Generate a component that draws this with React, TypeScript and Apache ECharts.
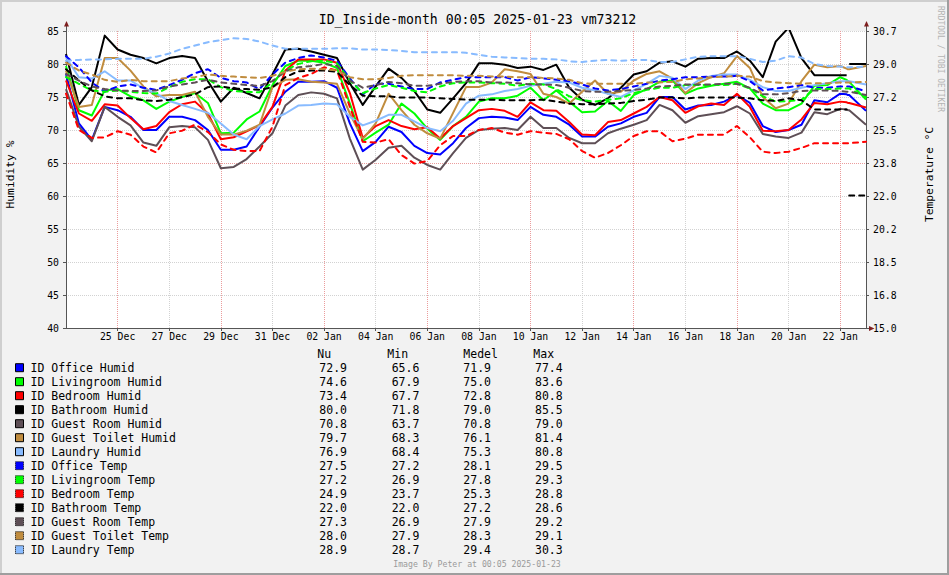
import React, { useEffect, useRef } from "react";
import * as echarts from "echarts";

const FONT = "DejaVu Sans Mono";

// x position of every sample: days since 2024-12-23 00:00
const days: number[] = [...Array.from({ length: 61 }, (_, i) => i / 2), 30.25, 30.3, 30.35, 31];

const xLabelDays = [2, 4, 6, 8, 10, 12, 14, 16, 18, 20, 22, 24, 26, 28, 30];
const humidTicks = [40, 45, 50, 55, 60, 65, 70, 75, 80, 85];
const tempTickLabels = ["15.0", "16.8", "18.5", "20.2", "22.0", "23.8", "25.5", "27.2", "29.0", "30.7"];
const MONTHS = ["Jan", "Feb", "Mar", "Apr", "May", "Jun", "Jul", "Aug", "Sep", "Oct", "Nov", "Dec"];

// Humidity (%)
const officeHumid = [78.5, 71, 68.5, 73.5, 73, 72, 70, 70, 72, 72, 71.5, 70, 67, 67, 67.5, 70.5, 73.4, 75.8, 77.3, 77.3,
  77.4, 76.4, 71, 66.8, 68.2, 70.5, 69.7, 67.6, 66.5, 66.3, 68, 70.3, 71.8, 72.0, 71.9, 71.5, 73.5, 72.3, 72, 70.8, 69, 69, 70.5,
  71, 72, 72.6, 75, 75, 73.1, 73.7, 73.8, 74.3, 75.3, 74.1, 70.6, 69.7, 70, 70.8, 74.5, 74.2, 75.5,
  75.4, 75.3, 75.3, 72.9];
const livingHumid = [79.7, 73, 72.2, 76, 76.2, 75.1, 74.5, 73.2, 74.3, 75, 75.6, 74.1, 69.5, 69.6, 71.6, 72.8, 76.8, 79.7, 80.5, 80.5,
  80.2, 79.4, 74, 68.3, 69.6, 70.8, 74, 72.5, 70.2, 68.5, 70.6, 72, 74.3, 74.8, 74.8, 75.2, 76.4, 74.5, 76, 74.3, 72.7, 72.8, 74.4,
  72.9, 75.3, 76.2, 77.3, 77.5, 75.5, 76.3, 76.7, 77, 77.3, 76.3, 74, 73, 73, 74, 76.7, 76.8, 78,
  77.6, 77.4, 77.3, 74.6];
const bedroomHumid = [77.5, 72.5, 71.4, 73.9, 73.7, 71.8, 70.1, 70.6, 72.7, 73.9, 74.3, 72.5, 68.6, 68.9, 69.8, 70.7, 73.5, 79, 80.7, 80.7,
  80.7, 80.2, 75.6, 68.8, 70.6, 71.5, 70.6, 70.1, 70.4, 68.7, 70.6, 71.8, 73, 73.2, 72.9, 72, 74.2, 73, 72.9, 71.2, 69.3, 69.2, 71.2,
  71.5, 72.5, 73.5, 75, 74.5, 72.6, 73.6, 74, 73.8, 75.5, 73.5, 69.9, 69.8, 70, 71.6, 74.1, 73.9, 74.3,
  74.2, 74.1, 74.1, 73.4];
const bathroomHumid = [81.5, 73.8, 76.5, 84.3, 82.2, 81.4, 80.9, 80.1, 80.9, 81.2, 80.9, 77.4, 74.3, 76.4, 75.6, 74.8, 78.4, 82.2, 82.3, 81.9,
  81.4, 80.9, 77.1, 73.8, 76.6, 79.3, 77.9, 75.9, 73.1, 72.6, 74.8, 77.1, 80.1, 80.1, 79.9, 79.4, 79.6, 79.1, 79.9, 76.4, 74.6, 73.8, 74.8,
  76.4, 78.4, 78.9, 80.2, 80.4, 79.6, 80.8, 80.9, 80.9, 81.9, 80.5, 78, 83.4, 85.5, 80.9, 78.3, 78.3, 78.3,
  78.3, null, 80, 80];
const guestRoomHumid = [76.2, 70.5, 68.3, 73.5, 72, 70.7, 68.1, 67.6, 70.4, 70.6, 70.4, 68.5, 64.2, 64.4, 65.6, 67.5, 69.5, 73.7, 75.3, 75.7,
  75.5, 74.8, 68.7, 64, 65.5, 67.3, 67.6, 65.8, 64.7, 64, 66.5, 68.8, 70, 70.2, 70.3, 70, 72, 70.3, 70.3, 68.8, 68, 68, 69.5,
  70.2, 70.8, 71.5, 73.8, 73, 71.1, 72.1, 72.4, 72.7, 73.6, 72.5, 69.4, 69, 68.8, 69.6, 72.7, 72.4, 73.2,
  73.1, 73, 73, 70.8];
const guestToiletHumid = [79, 73.5, 73.8, 80.9, 80.9, 79, 76.6, 75.1, 75.3, 75.3, 75.8, 72, 69.3, 69.3, 69.9, 70.8, 76.5, 77.6, 77.7, 77.3,
  77.2, 77, 72.5, 68.6, 71, 75.5, 73, 70.8, 69.5, 68.7, 72.6, 76.5, 76.5, 77.2, 79.2, 78.9, 78.5, 75.5, 75, 74, 75.8, 77.5, 75.5,
  75.8, 77.5, 78.5, 78.9, 77.8, 75.6, 77.1, 78, 78.6, 81.2, 79.4, 75, 73.3, 74, 77.4, 79.9, 79.5, 79.7,
  79.3, 79.2, 79.2, 79.7];
const laundryHumid = [81, 78, 77.8, 78.9, 77.5, 77.5, 76.3, 75.5, 74.4, 73.8, 73.2, 72.6, 71, 69.3, 68.6, 70.6, 71.6, 72.5, 73.7, 73.8,
  74, 73.9, 72, 70.7, 71.4, 72.3, 72.3, 71.3, 70.3, 69.8, 71.4, 74, 75.2, 75.4, 75.9, 76.2, 76.7, 77, 77.3, 77.2, 76.4, 76, 75.5,
  75, 76, 77, 78.2, 77.9, 76.2, 77.5, 78.2, 78.4, 78.4, 77.6, 76.5, 75.9, 75.9, 76.4, 76.8, 77.1, 77.4,
  77.4, 77.4, 77.4, 76.9];

// Temperature (°C)
const officeTemp = [29.37, 28.78, 27.98, 27.49, 27.77, 27.87, 27.70, 27.59, 27.84, 28.12, 28.47, 28.68, 28.22, 28.05, 27.98, 27.63, 28.40, 29.03, 29.27, 29.41,
  29.30, 29.13, 28.19, 27.35, 27.91, 27.91, 27.77, 27.63, 27.63, 27.98, 28.12, 28.26, 28.26, 28.26, 28.26, 28.08, 28.26, 28.19, 28.12, 28.05, 27.87, 27.66, 27.56,
  27.63, 27.77, 27.91, 28.08, 28.15, 28.26, 28.26, 28.29, 28.29, 28.33, 28.05, 27.56, 27.66, 27.73, 27.84, 27.70, 27.70, 27.77,
  27.77, 27.77, 27.77, 27.52];
const livingTemp = [28.26, 27.91, 27.56, 27.49, 27.56, 27.49, 27.42, 27.39, 27.73, 28.01, 28.15, 28.15, 27.73, 27.53, 27.49, 27.46, 27.98, 28.61, 28.96, 29.10,
  29.13, 28.99, 28.08, 27.42, 27.66, 27.84, 27.70, 27.53, 27.46, 27.77, 27.94, 27.98, 27.98, 27.94, 27.91, 27.80, 27.91, 27.87, 27.63, 27.25, 27.04, 26.97, 27.07,
  27.14, 27.42, 27.59, 27.70, 27.70, 27.84, 27.84, 27.84, 27.84, 27.91, 27.66, 27.25, 26.97, 27.00, 27.07, 27.63, 27.63, 27.66,
  27.66, 27.66, 27.66, 27.21];
const bedroomTemp = [27.39, 25.47, 25.05, 25.08, 25.40, 25.22, 24.59, 24.28, 25.29, 25.43, 25.75, 25.36, 24.70, 24.42, 24.35, 24.35, 25.64, 27.84, 28.22, 28.43,
  28.78, 28.61, 26.69, 24.84, 24.80, 24.98, 24.14, 23.69, 23.83, 24.66, 25.15, 25.15, 25.47, 25.57, 25.33, 25.22, 25.40, 25.33, 25.26, 24.98, 24.35, 24.00, 24.25,
  24.66, 25.15, 25.40, 25.40, 24.87, 25.01, 25.22, 25.22, 25.22, 25.68, 25.08, 24.32, 24.25, 24.32, 24.52, 24.77, 24.77, 24.77,
  24.77, 24.77, 24.77, 24.85];
const bathroomTemp = [28.68, 28.08, 27.56, 27.25, 27.14, 27.14, 27.04, 27.00, 27.07, 27.21, 27.35, 27.73, 27.77, 27.66, 27.63, 27.59, 27.73, 28.26, 28.57, 28.61,
  28.61, 28.54, 27.84, 27.28, 27.25, 27.25, 27.18, 27.18, 27.18, 27.14, 27.11, 27.07, 27.07, 27.07, 27.04, 27.04, 27.04, 27.07, 26.97, 26.86, 26.83, 26.83, 26.86,
  26.90, 27.00, 27.07, 27.18, 27.18, 27.14, 27.18, 27.18, 27.18, 27.18, 27.14, 27.04, 27.00, 27.14, 27.04, 26.55, 26.55, 26.55,
  26.55, null, 22.0, 22.0];
const guestRoomTemp = [28.43, 28.08, 27.77, 27.63, 27.56, 27.53, 27.53, 27.56, 27.77, 27.87, 27.98, 28.12, 27.98, 27.91, 27.84, 27.80, 28.05, 28.57, 28.78, 28.85,
  28.96, 28.85, 28.08, 27.70, 27.84, 28.01, 27.94, 27.80, 27.80, 27.91, 28.01, 28.05, 28.05, 27.98, 27.98, 27.94, 27.87, 27.87, 27.84, 27.70, 27.53, 27.49, 27.49,
  27.53, 27.59, 27.66, 27.77, 27.80, 27.87, 27.87, 27.87, 27.91, 27.91, 27.70, 27.35, 27.35, 27.42, 27.53, 27.56, 27.56, 27.53,
  27.49, 27.49, 27.49, 27.32];
const guestToiletTemp = [29.03, 28.61, 28.40, 28.12, 28.01, 28.12, 28.05, 28.05, 28.05, 28.19, 28.26, 28.40, 28.33, 28.29, 28.26, 28.22, 28.33, 28.54, 28.68, 28.71,
  28.68, 28.61, 28.26, 28.15, 28.15, 28.22, 28.33, 28.36, 28.36, 28.36, 28.36, 28.33, 28.33, 28.29, 28.29, 28.26, 28.26, 28.22, 28.19, 28.12, 27.94, 27.91, 27.91,
  27.91, 27.91, 27.98, 27.98, 28.01, 28.15, 28.19, 28.26, 28.29, 28.33, 28.29, 28.05, 27.98, 27.94, 27.91, 27.94, 27.94, 27.98,
  27.98, 27.98, 27.98, 28.01];
const laundryTemp = [29.13, 29.17, 29.20, 29.20, 29.23, 29.23, 29.23, 29.34, 29.51, 29.76, 29.93, 30.11, 30.21, 30.32, 30.28, 30.14, 29.93, 29.76, 29.76, 29.76,
  29.76, 29.79, 29.79, 29.72, 29.72, 29.69, 29.65, 29.58, 29.58, 29.58, 29.58, 29.55, 29.44, 29.34, 29.30, 29.27, 29.23, 29.23, 29.20, 29.10, 29.06, 29.13, 29.17,
  29.13, 29.17, 29.17, 29.06, 29.06, 29.20, 29.34, 29.37, 29.37, 29.37, 29.23, 29.06, 29.13, 29.37, 29.30, 28.96, 28.85, 28.82,
  28.78, 28.78, 28.78, 28.82];

const seriesNames = [
  "ID Office Humid", "ID Livingroom Humid", "ID Bedroom Humid", "ID Bathroom Humid", "ID Guest Room Humid",
  "ID Guest Toilet Humid", "ID Laundry Humid", "ID Office Temp", "ID Livingroom Temp", "ID Bedroom Temp",
  "ID Bathroom Temp", "ID Guest Room Temp", "ID Guest Toilet Temp", "ID Laundry Temp",
];
const roomColors = ["#0000ff", "#00ff00", "#ff0000", "#000000", "#5e4f56", "#c08c3e", "#88bbff"];
const seriesValues = [
  officeHumid, livingHumid, bedroomHumid, bathroomHumid, guestRoomHumid, guestToiletHumid, laundryHumid,
  officeTemp, livingTemp, bedroomTemp, bathroomTemp, guestRoomTemp, guestToiletTemp, laundryTemp,
];

// legend statistics (Nu, Min, Medel, Max)
const statNu = [72.9, 74.6, 73.4, 80.0, 70.8, 79.7, 76.9, 27.5, 27.2, 24.9, 22.0, 27.3, 28.0, 28.9];
const statMin = [65.6, 67.9, 67.7, 71.8, 63.7, 68.3, 68.4, 27.2, 26.9, 23.7, 22.0, 26.9, 27.9, 28.7];
const statMedel = [71.9, 75.0, 72.8, 79.0, 70.8, 76.1, 75.3, 28.1, 27.8, 25.3, 27.2, 27.9, 28.3, 29.4];
const statMax = [77.4, 83.6, 80.8, 85.5, 79.0, 81.4, 80.8, 29.5, 29.3, 28.8, 28.6, 29.2, 29.1, 30.3];

const TEMP_MIN = 15;
const TEMP_MAX = 30.7;
const tempTickValues = tempTickLabels.map((_, k) => TEMP_MIN + (k * (TEMP_MAX - TEMP_MIN)) / (tempTickLabels.length - 1));

const MAJOR = "#eb9c9c";
const MINOR = "#d2d2d2";
const AXIS = "#555555";
const ARROW = "#7f1f1f";

function dayLabel(v: number): string {
  const dt = new Date(2024, 11, 23 + Math.round(v));
  return `${String(dt.getDate()).padStart(2, "0")} ${MONTHS[dt.getMonth()]}`;
}

function txt(text: string, x: number, y: number, size: number, opts: any = {}) {
  return {
    type: "text",
    x,
    y,
    rotation: opts.rotation || 0,
    silent: true,
    style: {
      text,
      fill: opts.color || "#000",
      fontFamily: FONT,
      fontSize: size,
      align: opts.align || "left",
      verticalAlign: "middle",
      textAlign: opts.align || "left",
      textVerticalAlign: "middle",
    },
  };
}

function buildGraphic() {
  const g: any[] = [];
  // frame
  g.push({ type: "rect", silent: true, shape: { x: 0, y: 0, width: 949, height: 2 }, style: { fill: "#cfcfcf" } });
  g.push({ type: "rect", silent: true, shape: { x: 0, y: 0, width: 2, height: 575 }, style: { fill: "#cfcfcf" } });
  g.push({ type: "rect", silent: true, shape: { x: 0, y: 573, width: 949, height: 2 }, style: { fill: "#9e9e9e" } });
  g.push({ type: "rect", silent: true, shape: { x: 947, y: 0, width: 2, height: 575 }, style: { fill: "#9e9e9e" } });

  // title and axis names
  g.push(txt("ID_Inside-month 00:05 2025-01-23 vm73212", 477.5, 19.5, 13.2, { align: "center" }));
  g.push(txt("Humidity %", 10.5, 174.5, 11.3, { align: "center", rotation: Math.PI / 2 }));
  g.push(txt("Temperature °C", 929, 174.5, 11.3, { align: "center", rotation: Math.PI / 2 }));
  g.push(txt("RRDTOOL / TOBI OETIKER", 940, 59, 8, { align: "center", rotation: -Math.PI / 2, color: "#b4b4b4" }));
  g.push(txt("Image By Peter at 00:05 2025-01-23", 477, 564, 8.2, { align: "center", color: "#9a9a9a" }));

  // axis extensions and arrows
  g.push({ type: "line", silent: true, shape: { x1: 66.5, y1: 26, x2: 66.5, y2: 31 }, style: { stroke: AXIS, lineWidth: 1 } });
  g.push({ type: "line", silent: true, shape: { x1: 866.5, y1: 26, x2: 866.5, y2: 31 }, style: { stroke: AXIS, lineWidth: 1 } });
  g.push({ type: "line", silent: true, shape: { x1: 866, y1: 328.5, x2: 870, y2: 328.5 }, style: { stroke: AXIS, lineWidth: 1 } });
  g.push({ type: "polygon", silent: true, shape: { points: [[64, 26.5], [69, 26.5], [66.5, 21]] }, style: { fill: ARROW } });
  g.push({ type: "polygon", silent: true, shape: { points: [[864, 26.5], [869, 26.5], [866.5, 21]] }, style: { fill: ARROW } });
  g.push({ type: "polygon", silent: true, shape: { points: [[869, 326], [869, 331], [874.5, 328.5]] }, style: { fill: ARROW } });

  // legend table
  const headerY = 354.3;
  g.push(txt("Nu", 317.3, headerY, 11.5));
  g.push(txt("Min", 387.3, headerY, 11.5));
  g.push(txt("Medel", 463.3, headerY, 11.5));
  g.push(txt("Max", 533.3, headerY, 11.5));
  seriesNames.forEach((name, i) => {
    const y = 367.7 + 14 * i;
    const isTemp = i >= 7;
    g.push({
      type: "rect",
      silent: true,
      shape: { x: 15.5, y: y - 4, width: 8, height: 8 },
      style: { fill: roomColors[i % 7], stroke: "#000", lineWidth: 1, lineDash: isTemp ? [1, 1] : null },
    });
    g.push(txt(name, 30.5, y, 11.5));
    g.push(txt(statNu[i].toFixed(1), 319.3, y, 11.5));
    g.push(txt(statMin[i].toFixed(1), 391.7, y, 11.5));
    g.push(txt(statMedel[i].toFixed(1), 463.3, y, 11.5));
    g.push(txt(statMax[i].toFixed(1), 535, y, 11.5));
  });
  return g;
}

function buildOption(): any {
  const series = seriesValues.map((vals, i) => {
    const isTemp = i >= 7;
    return {
      type: "line",
      name: seriesNames[i],
      yAxisIndex: isTemp ? 1 : 0,
      data: days.map((d, k) => [d, vals[k]]),
      showSymbol: false,
      symbol: "none",
      connectNulls: false,
      silent: true,
      lineStyle: {
        color: roomColors[i % 7],
        width: 2,
        type: isTemp ? [5, 5] : "solid",
        cap: isTemp ? "round" : "butt",
        join: "round",
      },
    };
  });

  return {
    animation: false,
    backgroundColor: "#f2f2f2",
    grid: { left: 66, right: 83, top: 31, height: 297, show: true, backgroundColor: "#ffffff", borderWidth: 0 },
    xAxis: {
      type: "value",
      min: 0,
      max: 31,
      interval: 1,
      axisLine: { show: true, onZero: false, lineStyle: { color: AXIS, width: 1 } },
      axisTick: { show: true, customValues: xLabelDays, length: 3, lineStyle: { color: AXIS } },
      axisLabel: {
        customValues: xLabelDays,
        formatter: (v: number) => dayLabel(v),
        fontFamily: FONT,
        fontSize: 9.8,
        color: "#000",
        margin: 3,
      },
      splitLine: { show: true, lineStyle: { color: [MAJOR, MINOR], type: [1, 1], width: 1 } },
    },
    yAxis: [
      {
        type: "value",
        min: 40,
        max: 85,
        interval: 1,
        axisLine: { show: true, lineStyle: { color: AXIS, width: 1 } },
        axisTick: { show: true, customValues: humidTicks, length: 3, lineStyle: { color: AXIS } },
        axisLabel: {
          customValues: humidTicks,
          formatter: (v: number) => String(Math.round(v)),
          fontFamily: FONT,
          fontSize: 9.8,
          color: "#000",
          margin: 7,
        },
        splitLine: { show: true, lineStyle: { color: [MAJOR, MINOR, MINOR, MINOR, MINOR], type: [1, 1], width: 1 } },
      },
      {
        type: "value",
        position: "right",
        min: TEMP_MIN,
        max: TEMP_MAX,
        axisLine: { show: true, lineStyle: { color: AXIS, width: 1 } },
        axisTick: { show: true, customValues: tempTickValues, length: 3, lineStyle: { color: AXIS } },
        axisLabel: {
          customValues: tempTickValues,
          formatter: (v: number) => {
            let best = 0;
            tempTickValues.forEach((t, k) => {
              if (Math.abs(t - v) < Math.abs(tempTickValues[best] - v)) best = k;
            });
            return tempTickLabels[best];
          },
          fontFamily: FONT,
          fontSize: 9.8,
          color: "#000",
          margin: 7,
        },
        splitLine: { show: false },
      },
    ],
    series,
    graphic: buildGraphic(),
  };
}

export default function App() {
  const ref = useRef<HTMLDivElement>(null);
  useEffect(() => {
    if (!ref.current) return;
    const chart = echarts.init(ref.current, null, { renderer: "svg" });
    chart.setOption(buildOption());
    return () => chart.dispose();
  }, []);
  return <div ref={ref} style={{ position: "fixed", left: 0, top: 0, width: 949, height: 575 }} />;
}
